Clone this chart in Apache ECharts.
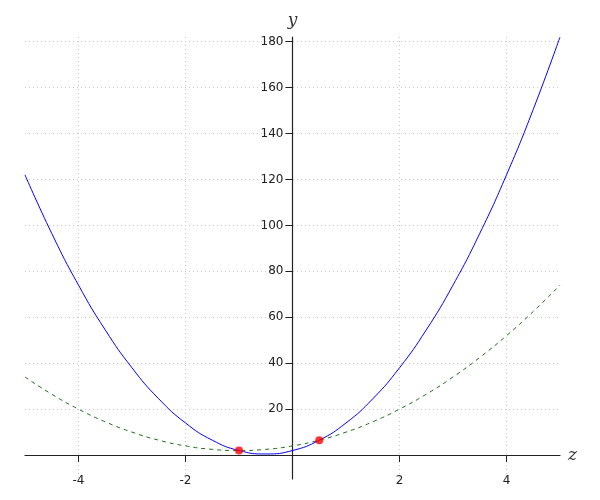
<!DOCTYPE html>
<html>
<head>
<meta charset="utf-8">
<script src="https://cdn.jsdelivr.net/npm/echarts@6/dist/echarts.min.js"></script>
<style>
  html, body { margin: 0; padding: 0; background: #fff; }
  #chart { width: 600px; height: 500px; }
</style>
</head>
<body>
<div id="chart"></div>
<script>
// sample points
const zValues = [-5, -4.5, -4, -3.5, -3, -2.5, -2, -1.5, -1, -0.5, 0, 0.5, 1, 1.5, 2, 2.5, 3, 3.5, 4, 4.5, 5];
const blueValues = [122, 96.5, 74, 54.5, 38, 24.5, 14, 6.5, 2, 0.5, 2, 6.5, 14, 24.5, 38, 54.5, 74, 96.5, 122, 150.5, 182];
const greenValues = [34, 26.5, 20, 14.5, 10, 6.5, 4, 2.5, 2, 2.5, 4, 6.5, 10, 14.5, 20, 26.5, 34, 42.5, 52, 62.5, 74];
const redPoints = [[-1, 2], [0.5, 6.5]];
const xTicks = [-4, -2, 2, 4];
const yTicks = [20, 40, 60, 80, 100, 120, 140, 160, 180];

const axisColor = "#222";
const gridColor = "#c8c8c8";

// plot box
const gridLeft = 25, gridRight = 40, gridTop = 37, gridBottom = 21;
const xMin = -5, xMax = 5, yMin = -10.4, yMax = 182;
const plotW = 600 - gridLeft - gridRight;
const plotH = 500 - gridTop - gridBottom;
// shift the axes so they cross at the origin (labels follow them)
const yAxisOffset = -plotW * (0 - xMin) / (xMax - xMin);
const xAxisOffset = -plotH * (0 - yMin) / (yMax - yMin);

function pairs(xs, ys) {
  return xs.map(function (x, i) { return [x, ys[i]]; });
}

const chart = echarts.init(document.getElementById("chart"));
chart.setOption({
  animation: false,
  grid: {
    left: gridLeft, right: gridRight, top: gridTop, bottom: gridBottom,
    containLabel: false, outerBoundsMode: "none"
  },
  xAxis: {
    type: "value",
    min: xMin,
    max: xMax,
    position: "bottom",
    offset: xAxisOffset,
    name: "z",
    nameLocation: "end",
    nameGap: 8,
    nameTextStyle: { fontFamily: "DejaVu Serif", fontStyle: "italic", fontSize: 17, color: "#333" },
    axisLine: { onZero: false, lineStyle: { color: axisColor, width: 1.2 } },
    axisTick: { show: true, length: 7, customValues: xTicks, lineStyle: { color: axisColor } },
    axisLabel: { customValues: xTicks, margin: 20, fontFamily: "DejaVu Sans", fontSize: 12, color: axisColor },
    splitLine: { show: true, lineStyle: { color: gridColor, type: [1, 3] } }
  },
  yAxis: {
    type: "value",
    min: yMin,
    max: yMax,
    position: "left",
    offset: yAxisOffset,
    name: "y",
    nameLocation: "end",
    nameGap: 8,
    nameTextStyle: { fontFamily: "DejaVu Serif", fontStyle: "italic", fontSize: 17, color: "#333" },
    axisLine: { show: true, onZero: false, lineStyle: { color: axisColor, width: 1.2 } },
    axisTick: { show: true, length: 7, customValues: yTicks, lineStyle: { color: axisColor } },
    axisLabel: { customValues: yTicks, margin: 9, fontFamily: "DejaVu Sans", fontSize: 12, color: axisColor },
    splitLine: { show: true, lineStyle: { color: gridColor, type: [1, 3] } }
  },
  series: [
    {
      type: "line",
      data: pairs(zValues, greenValues),
      smooth: true,
      showSymbol: false,
      lineStyle: { color: "#1a6e1a", width: 1, type: [4, 4] }
    },
    {
      type: "line",
      data: pairs(zValues, blueValues),
      smooth: true,
      showSymbol: false,
      lineStyle: { color: "#0000ff", width: 1 }
    },
    {
      type: "scatter",
      data: redPoints,
      symbolSize: 8,
      itemStyle: { color: "#ff0000" },
      z: 5
    }
  ]
});
</script>
</body>
</html>
